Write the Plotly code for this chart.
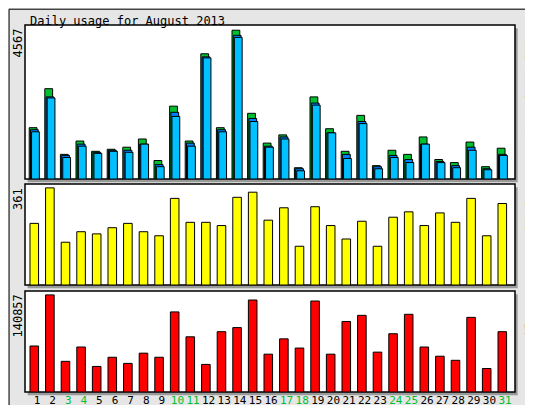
import plotly.graph_objects as go

days = list(range(1, 32))
weekend = {3, 4, 10, 11, 17, 18, 24, 25, 31}

hits = [1575, 2772, 756, 1165, 850, 913, 976, 1228, 567, 2236, 1165, 3843, 1575, 4567, 2016, 1102,
        1354, 346, 2520, 1543, 850, 1953, 409, 882, 756, 1291, 598, 504, 1134, 378, 945]
files = [1512, 2520, 724, 1071, 819, 882, 882, 1071, 441, 2047, 1102, 3748, 1512, 4410, 1858, 1008,
         1291, 315, 2331, 1417, 756, 1764, 378, 724, 598, 1071, 535, 409, 976, 315, 756]
pages = [1449, 2488, 661, 1008, 787, 850, 819, 1071, 378, 1921, 1008, 3717, 1449, 4347, 1764, 976,
         1228, 252, 2268, 1417, 630, 1701, 315, 661, 504, 1071, 504, 346, 882, 284, 724]
visits = [229, 361, 159, 198, 190, 213, 229, 198, 183, 322, 233, 233, 221, 326, 345, 241,
          287, 144, 291, 221, 171, 237, 144, 252, 272, 221, 268, 233, 322, 183, 303]
kbytes = [66717, 140857, 44478, 65234, 37065, 50408, 41513, 56339, 50408, 116137, 80060, 40030,
          87473, 93404, 133444, 54856, 77095, 63752, 131961, 54856, 102299, 111195, 57822, 84508,
          112677, 65234, 51891, 45960, 108230, 34100, 87473]

FONT = "DejaVu Sans Mono"
XDOM = [17 / 533, 507 / 533]
doms = {"y": [1 - 171 / 405, 1 - 17 / 405],
        "y2": [1 - 277 / 405, 1 - 176 / 405],
        "y3": [1 - 384 / 405, 1 - 283 / 405]}

fig = go.Figure()
line = dict(color="black", width=1)
fig.add_trace(go.Bar(x=days, y=hits, width=0.5, offset=-0.5, marker=dict(color="#00c030", line=line),
                     xaxis="x", yaxis="y"))
fig.add_trace(go.Bar(x=days, y=files, width=0.5, offset=-0.42, marker=dict(color="#0080ff", line=line),
                     xaxis="x", yaxis="y"))
fig.add_trace(go.Bar(x=days, y=pages, width=0.5, offset=-0.35, marker=dict(color="#00c0ff", line=line),
                     xaxis="x", yaxis="y"))
fig.add_trace(go.Bar(x=days, y=visits, width=0.55, offset=-0.45, marker=dict(color="#ffff00", line=line),
                     xaxis="x2", yaxis="y2"))
fig.add_trace(go.Bar(x=days, y=kbytes, width=0.55, offset=-0.45, marker=dict(color="#ff0000", line=line),
                     xaxis="x3", yaxis="y3"))

ticktext = [f"<span style='color:#00c030'>{d}</span>" if d in weekend else str(d) for d in days]
xcommon = dict(domain=XDOM, range=[0.23, 31.64], showgrid=False, zeroline=False, ticks="",
               automargin=False, tickfont=dict(family=FONT, size=11, color="black"))
ycommon = dict(showgrid=False, zeroline=False, showticklabels=False, ticks="", automargin=False)
fig.update_layout(
    xaxis=dict(**xcommon, anchor="y", showticklabels=False),
    xaxis2=dict(**xcommon, anchor="y2", showticklabels=False),
    xaxis3=dict(**xcommon, anchor="y3", tickvals=days, ticktext=ticktext),
    yaxis=dict(**ycommon, domain=doms["y"], range=[0, max(hits) * 1.035]),
    yaxis2=dict(**ycommon, domain=doms["y2"], range=[0, max(visits) * 1.04]),
    yaxis3=dict(**ycommon, domain=doms["y3"], range=[0, max(kbytes) * 1.04]),
    barmode="overlay", showlegend=False, width=533, height=405,
    margin=dict(l=0, r=0, t=0, b=0, autoexpand=False),
    paper_bgcolor="#e6e6e6", plot_bgcolor="white",
)

shapes = [dict(type="rect", xref="paper", yref="paper", x0=0.002, x1=0.998, y0=0.003, y1=0.997,
               line=dict(color="black", width=1), layer="below")]
for yk, (y0, y1) in doms.items():
    shapes.append(dict(type="rect", xref="paper", yref="paper", x0=XDOM[0] + 0.005, x1=XDOM[1] + 0.005,
                       y0=y0 - 0.008, y1=y1 - 0.008, fillcolor="#999999", line=dict(width=0), layer="below"))
    shapes.append(dict(type="rect", xref="paper", yref="paper", x0=XDOM[0], x1=XDOM[1], y0=y0, y1=y1,
                       fillcolor="white", line=dict(color="black", width=1.5), layer="below"))
fig.update_layout(shapes=shapes)

ann = [dict(text="Daily usage for August 2013", x=20 / 533, y=1 - 4 / 405, xanchor="left", yanchor="top",
            font=dict(family=FONT, size=12, color="black"))]
for yk, lab, rlab in [("y", str(max(hits)),
                       "<span style='color:#00c0ff'>Pages</span>/<span style='color:#0080ff'>Files</span>/<span style='color:#00c030'>Hits</span>"),
                      ("y2", str(max(visits)), "<span style='color:#e0e000'>Visits</span>"),
                      ("y3", str(max(kbytes)), "<span style='color:#ff0000'>KBytes</span>")]:
    top = doms[yk][1]
    ann.append(dict(text=lab, x=10 / 533, y=top - 0.005, xanchor="center", yanchor="top", textangle=-90,
                    font=dict(family=FONT, size=12, color="black")))
    ann.append(dict(text=rlab, x=521 / 533, y=top - 0.005, xanchor="center", yanchor="top", textangle=-90,
                    font=dict(family=FONT, size=11, color="black")))
for a in ann:
    a.update(xref="paper", yref="paper", showarrow=False)
fig.update_layout(annotations=ann)

fig.write_html("out.html")
